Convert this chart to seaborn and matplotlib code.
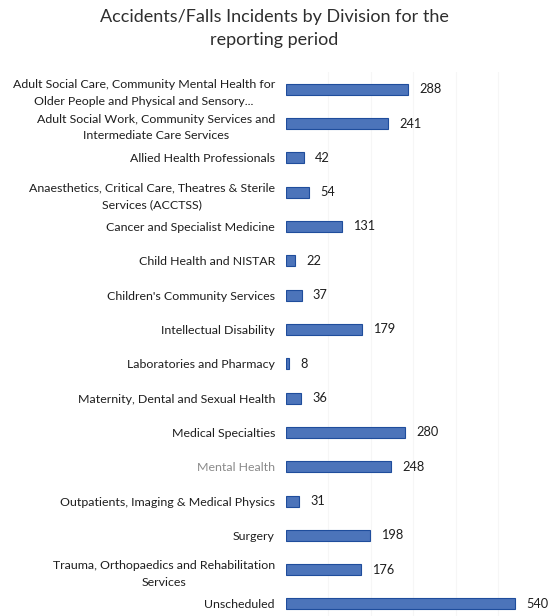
import matplotlib
matplotlib.use("Agg")
import matplotlib.pyplot as plt
import seaborn as sns
import pandas as pd

divisions = [
    "Adult Social Care, Community Mental Health for\nOlder People and Physical and Sensory...",
    "Adult Social Work, Community Services and\nIntermediate Care Services",
    "Allied Health Professionals",
    "Anaesthetics, Critical Care, Theatres & Sterile\nServices (ACCTSS)",
    "Cancer and Specialist Medicine",
    "Child Health and NISTAR",
    "Children's Community Services",
    "Intellectual Disability",
    "Laboratories and Pharmacy",
    "Maternity, Dental and Sexual Health",
    "Medical Specialties",
    "Mental Health",
    "Outpatients, Imaging & Medical Physics",
    "Surgery",
    "Trauma, Orthopaedics and Rehabilitation\nServices",
    "Unscheduled",
]
incidents = [288, 241, 42, 54, 131, 22, 37, 179, 8, 36, 280, 248, 31, 198, 176, 540]

df = pd.DataFrame({"Division": divisions, "Incidents": incidents})

sns.set_theme(style="white")
plt.rcParams["font.family"] = ["Lato", "DejaVu Sans"]

fig = plt.figure(figsize=(5.49, 6.16), dpi=100)
ax = fig.add_axes([0.521, 0.0, 0.464, 0.883])

sns.barplot(data=df, x="Incidents", y="Division", color="#3a6fcc",
            edgecolor="#1f4d9c", linewidth=0.8, width=0.32, ax=ax, orient="h")

ax.set_xlim(0, 600)
ax.set_ylim(15.35, -0.5)
ax.set_xticks([100, 200, 300, 400, 500])
ax.xaxis.grid(True, color="#f6f6f6", linewidth=0.8)
ax.set_axisbelow(True)
ax.tick_params(axis="x", bottom=False, labelbottom=False)
ax.tick_params(axis="y", left=False, length=0, labelsize=8.9, pad=8, labelcolor="#1e1e1e")
for lbl in ax.get_yticklabels():
    lbl.set_multialignment("center")
    lbl.set_linespacing(1.65)
    if lbl.get_text() == "Mental Health":
        lbl.set_color("#8a8a8a")
ax.set_xlabel("")
ax.set_ylabel("")
for s in ax.spines.values():
    s.set_visible(False)

for container in ax.containers:
    ax.bar_label(container, labels=[str(v) for v in incidents], padding=8,
                 fontsize=9.2, color="#1e1e1e")

fig.text(0.5, 0.985, "Accidents/Falls Incidents by Division for the\nreporting period",
         ha="center", va="top", fontsize=13, color="#2e2e2e", linespacing=1.55)

fig.savefig("out.png", dpi=100)
